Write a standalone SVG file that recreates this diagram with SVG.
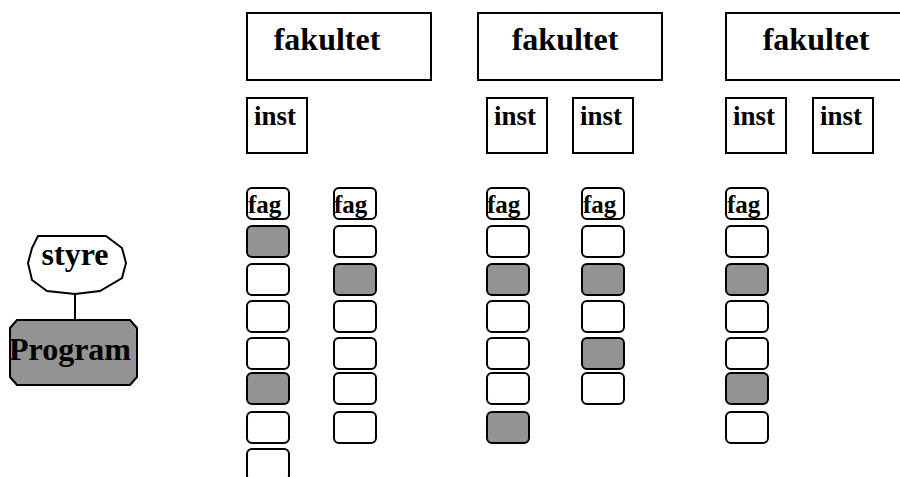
<svg xmlns="http://www.w3.org/2000/svg" width="900" height="477" viewBox="0 0 900 477">
<style>
.box{fill:#fff;stroke:#000;stroke-width:2}
.f{fill:#fff;stroke:#000;stroke-width:2}
.g{fill:#939393;stroke:#000;stroke-width:2}
.t{font-family:"Liberation Serif",serif;font-weight:bold;fill:#000}
.line{stroke:#000;stroke-width:2;fill:none}
</style>
<defs>
<rect id="fagbox" x="0" y="0" width="42" height="31" rx="5" ry="5"/>
</defs>
<rect width="900" height="477" fill="#fff"/>
<g id="connectors">
<line class="line" x1="75" y1="294" x2="75" y2="320"/>
</g>
<g id="styre">
<polygon class="box" points="38,236 106,236 122,248 126,263 122,278 100,291 75,294 47,291 32,280 28,263 32,248"/>
<text class="t" x="75" y="265" font-size="32" text-anchor="middle">styre</text>
</g>
<g id="program">
<polygon class="g" points="17,320 130,320 137,328 137,377 130,385 17,385 10,377 10,328"/>
<text class="t" x="70" y="360" font-size="32" text-anchor="middle">Program</text>
</g>
<g id="fakultet1">
<rect class="box" x="247" y="13" width="184" height="67"/>
<text class="t" x="327" y="50" font-size="32" text-anchor="middle">fakultet</text>
</g>
<g id="fakultet2">
<rect class="box" x="478" y="13" width="184" height="67"/>
<text class="t" x="565" y="50" font-size="32" text-anchor="middle">fakultet</text>
</g>
<g id="fakultet3">
<rect class="box" x="726" y="13" width="190" height="67"/>
<text class="t" x="816" y="50" font-size="32" text-anchor="middle">fakultet</text>
</g>
<g id="inst1">
<rect class="box" x="247" y="98" width="60" height="55"/>
<text class="t" x="254" y="125" font-size="27">inst</text>
</g>
<g id="inst2">
<rect class="box" x="487" y="98" width="60" height="55"/>
<text class="t" x="494" y="125" font-size="27">inst</text>
</g>
<g id="inst3">
<rect class="box" x="573" y="98" width="60" height="55"/>
<text class="t" x="580" y="125" font-size="27">inst</text>
</g>
<g id="inst4">
<rect class="box" x="726" y="98" width="60" height="55"/>
<text class="t" x="733" y="125" font-size="27">inst</text>
</g>
<g id="inst5">
<rect class="box" x="813" y="98" width="60" height="55"/>
<text class="t" x="820" y="125" font-size="27">inst</text>
</g>
<g id="col1">
<use href="#fagbox" class="f" x="247" y="188"/>
<text class="t" x="248" y="213" font-size="25">fag</text>
<use href="#fagbox" class="g" x="247" y="226"/>
<use href="#fagbox" class="f" x="247" y="264"/>
<use href="#fagbox" class="f" x="247" y="301"/>
<use href="#fagbox" class="f" x="247" y="338"/>
<use href="#fagbox" class="g" x="247" y="373"/>
<use href="#fagbox" class="f" x="247" y="412"/>
<use href="#fagbox" class="f" x="247" y="449"/>
</g>
<g id="col2">
<use href="#fagbox" class="f" x="334" y="188"/>
<text class="t" x="334" y="213" font-size="25">fag</text>
<use href="#fagbox" class="f" x="334" y="226"/>
<use href="#fagbox" class="g" x="334" y="264"/>
<use href="#fagbox" class="f" x="334" y="301"/>
<use href="#fagbox" class="f" x="334" y="338"/>
<use href="#fagbox" class="f" x="334" y="373"/>
<use href="#fagbox" class="f" x="334" y="412"/>
</g>
<g id="col3">
<use href="#fagbox" class="f" x="487" y="188"/>
<text class="t" x="487" y="213" font-size="25">fag</text>
<use href="#fagbox" class="f" x="487" y="226"/>
<use href="#fagbox" class="g" x="487" y="264"/>
<use href="#fagbox" class="f" x="487" y="301"/>
<use href="#fagbox" class="f" x="487" y="338"/>
<use href="#fagbox" class="f" x="487" y="373"/>
<use href="#fagbox" class="g" x="487" y="412"/>
</g>
<g id="col4">
<use href="#fagbox" class="f" x="582" y="188"/>
<text class="t" x="583" y="213" font-size="25">fag</text>
<use href="#fagbox" class="f" x="582" y="226"/>
<use href="#fagbox" class="g" x="582" y="264"/>
<use href="#fagbox" class="f" x="582" y="301"/>
<use href="#fagbox" class="g" x="582" y="338"/>
<use href="#fagbox" class="f" x="582" y="373"/>
</g>
<g id="col5">
<use href="#fagbox" class="f" x="726" y="188"/>
<text class="t" x="727" y="213" font-size="25">fag</text>
<use href="#fagbox" class="f" x="726" y="226"/>
<use href="#fagbox" class="g" x="726" y="264"/>
<use href="#fagbox" class="f" x="726" y="301"/>
<use href="#fagbox" class="f" x="726" y="338"/>
<use href="#fagbox" class="g" x="726" y="373"/>
<use href="#fagbox" class="f" x="726" y="412"/>
</g>
</svg>
